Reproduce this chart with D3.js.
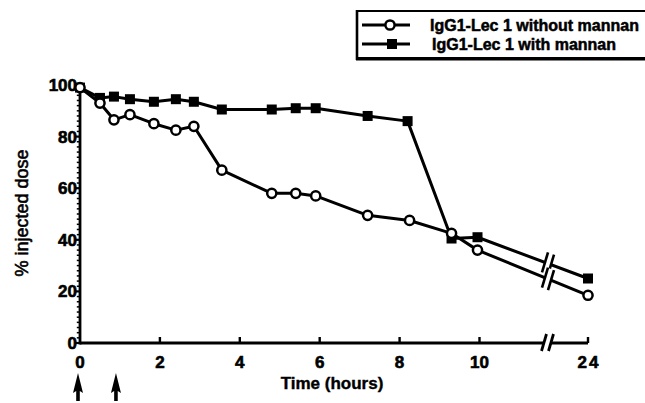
<!DOCTYPE html>
<html><head><meta charset="utf-8">
<script src="https://cdn.jsdelivr.net/npm/d3@7"></script>
<style>body{margin:0;background:#fff}svg{display:block}</style>
</head><body>
<script>
// ---- data ----
const hoursWithout = [0, 0.5, 0.85, 1.25, 1.85, 2.4, 2.85, 3.55, 4.8, 5.4, 5.9, 7.2, 8.25, 9.3, 9.95, 24];
const valuesWithout = [99, 93, 86.5, 88.5, 85, 82.5, 84, 67, 58, 58, 57, 49.5, 47.5, 42.5, 36, 18.5];
const hoursWith = [0, 0.5, 0.85, 1.25, 1.85, 2.4, 2.85, 3.55, 4.8, 5.4, 5.9, 7.2, 8.2, 9.3, 9.95, 24];
const valuesWith = [99, 95, 95.5, 94.5, 93.5, 94.5, 93.5, 90.5, 90.5, 91, 91, 88, 86, 40.5, 41, 25];
const xTicks = [0, 2, 4, 6, 8, 10, 24];
const yTicks = [0, 20, 40, 60, 80, 100];
const arrowHours = [0, 0.95];
const legendLabels = ["IgG1-Lec 1 without mannan", "IgG1-Lec 1 with mannan"];

// ---- layout ----
const W = 645, H = 403;
const svg = d3.select("body").append("svg").attr("width", W).attr("height", H);
const x = d3.scaleLinear().domain([0, 10, 24]).range([80, 479.5, 588]);
const y = d3.scaleLinear().domain([0, 100]).range([343, 85]);
const breakX = 548;
const font = "'Liberation Sans', Arial, Helvetica, sans-serif";
const txt = sel => sel.attr("font-family", font).attr("fill", "#000").attr("stroke", "#000");

// axes lines
const axisY = 343;
svg.append("line").attr("x1", 80).attr("x2", breakX - 4).attr("y1", axisY).attr("y2", axisY)
  .attr("stroke", "#000").attr("stroke-width", 2.8);
svg.append("line").attr("x1", breakX + 3).attr("x2", x(24)).attr("y1", axisY).attr("y2", axisY)
  .attr("stroke", "#000").attr("stroke-width", 2.8);
svg.append("line").attr("x1", 80).attr("x2", 80).attr("y1", y(100) - 1).attr("y2", axisY + 1.4)
  .attr("stroke", "#000").attr("stroke-width", 2.8);
// axis break slashes
[breakX - 4, breakX + 3].forEach(bx => {
  svg.append("line").attr("x1", bx - 2.5).attr("y1", axisY + 8).attr("x2", bx + 2.5).attr("y2", axisY - 9)
    .attr("stroke", "#000").attr("stroke-width", 2.8);
});

// x ticks
xTicks.forEach(t => {
  if (t !== 0) svg.append("line").attr("x1", x(t)).attr("x2", x(t)).attr("y1", axisY).attr("y2", axisY - 6)
    .attr("stroke", "#000").attr("stroke-width", 2.4);
  svg.append("text").attr("x", x(t) + (t === 24 ? 1 : 0)).attr("y", 368).attr("text-anchor", "middle")
    .call(txt).attr("stroke-width", 0.6).attr("font-weight", "bold").attr("font-size", 17)
    .attr("letter-spacing", t === 24 ? 2 : 0).text(t);
});
// y ticks
d3.range(0, 101, 2).forEach(v => {
  const major = v % 20 === 0;
  svg.append("line").attr("x1", 80).attr("x2", 80 - (major ? 5 : 3.2)).attr("y1", y(v)).attr("y2", y(v))
    .attr("stroke", "#000").attr("stroke-width", major ? 2.2 : 1.5);
});
yTicks.forEach(v => {
  svg.append("text").attr("x", 77).attr("y", y(v) + 6).attr("text-anchor", "end")
    .call(txt).attr("stroke-width", 0.6).attr("font-weight", "bold").attr("font-size", 17).text(v);
});

// axis titles
svg.append("text").attr("x", 332).attr("y", 389).attr("text-anchor", "middle")
  .call(txt).attr("stroke-width", 0.4).attr("font-weight", "bold").attr("font-size", 17).text("Time (hours)");
svg.append("text").attr("transform", "translate(28,213) rotate(-90)").attr("text-anchor", "middle")
  .call(txt).attr("stroke-width", 0.6).attr("font-size", 18).text("% injected dose");

// arrows
arrowHours.forEach(h => {
  const ax = x(h) - 2;
  svg.append("path").attr("d", `M${ax},373 L${ax + 5},393 L${ax + 1.8},391 L${ax + 1.8},401 L${ax - 1.8},401 L${ax - 1.8},391 L${ax - 5},393 Z`)
    .attr("fill", "#000");
});

// series
const series = [
  {h: hoursWithout, v: valuesWithout},
  {h: hoursWith, v: valuesWith}
];
const line = d3.line().x(d => x(d[0])).y(d => y(d[1]));
[series[1], series[0]].forEach(s => {
  const pts = s.h.map((h, i) => [h, s.v[i]]);
  svg.append("path").attr("d", line(pts)).attr("fill", "none").attr("stroke", "#000")
    .attr("stroke-width", 3).attr("stroke-linejoin", "round");
  // break on last segment
  const p1 = pts[pts.length - 2], p2 = pts[pts.length - 1];
  const x1 = x(p1[0]), y1 = y(p1[1]), x2 = x(p2[0]), y2 = y(p2[1]);
  const yb = xx => y1 + (y2 - y1) * (xx - x1) / (x2 - x1);
  const a = breakX - 3, b = breakX + 3, hh = 10, dx = 3;
  svg.append("path").attr("d", `M${a - dx},${yb(a) + hh} L${a + dx},${yb(a) - hh} L${b + dx},${yb(b) - hh} L${b - dx},${yb(b) + hh} Z`)
    .attr("fill", "#fff");
  [a, b].forEach(bx => {
    svg.append("line").attr("x1", bx - dx).attr("y1", yb(bx) + hh).attr("x2", bx + dx).attr("y2", yb(bx) - hh)
      .attr("stroke", "#000").attr("stroke-width", 2.6);
  });
});
// markers
svg.selectAll(".sq").data(hoursWith.map((h, i) => [h, valuesWith[i]])).enter().append("rect")
  .attr("x", d => x(d[0]) - 5).attr("y", d => y(d[1]) - 5).attr("width", 10).attr("height", 10).attr("fill", "#000");
svg.selectAll(".ci").data(hoursWithout.map((h, i) => [h, valuesWithout[i]])).enter().append("circle")
  .attr("cx", d => x(d[0])).attr("cy", d => y(d[1])).attr("r", 4.6)
  .attr("fill", "#fff").attr("stroke", "#000").attr("stroke-width", 2.5);

// legend
svg.append("rect").attr("x", 357).attr("y", 11).attr("width", 300).attr("height", 47)
  .attr("fill", "none").attr("stroke", "#000").attr("stroke-width", 2);
svg.append("line").attr("x1", 356).attr("x2", W).attr("y1", 59).attr("y2", 59).attr("stroke", "#000").attr("stroke-width", 2.8);
svg.append("line").attr("x1", 357).attr("x2", 357).attr("y1", 10).attr("y2", 60).attr("stroke", "#000").attr("stroke-width", 2.6);
const legY = [25, 44];
legendLabels.forEach((lab, i) => {
  svg.append("line").attr("x1", 362).attr("x2", 410).attr("y1", legY[i]).attr("y2", legY[i])
    .attr("stroke", "#000").attr("stroke-width", 3);
  if (i === 0) svg.append("circle").attr("cx", 390).attr("cy", legY[i]).attr("r", 4.6)
    .attr("fill", "#fff").attr("stroke", "#000").attr("stroke-width", 2.5);
  else svg.append("rect").attr("x", 392 - 5).attr("y", legY[i] - 5).attr("width", 10).attr("height", 10).attr("fill", "#000");
  svg.append("text").attr("x", i === 0 ? 430 : 432).attr("y", legY[i] + 6)
    .call(txt).attr("stroke-width", 0.5).attr("font-weight", "bold").attr("font-size", 16).text(lab);
});
</script>
</body></html>
